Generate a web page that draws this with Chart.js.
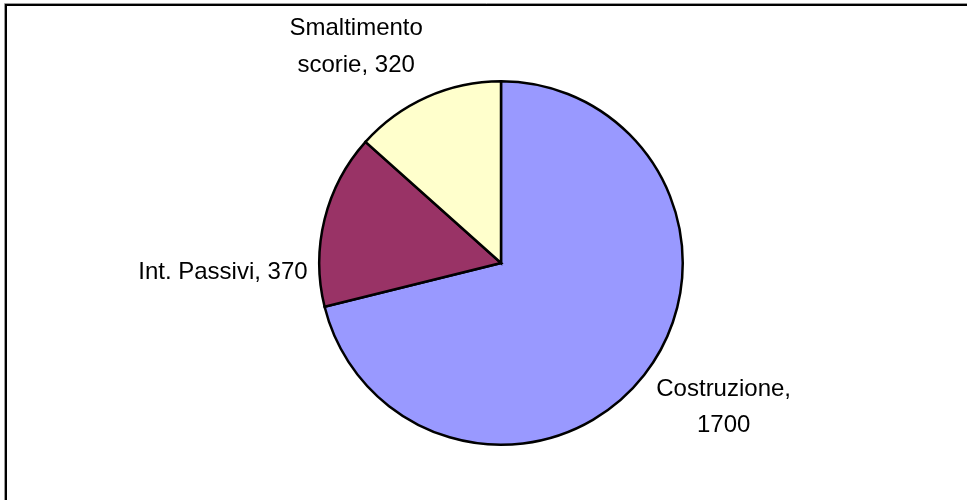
<!DOCTYPE html>
<html>
<head>
<meta charset="utf-8">
<script src="https://cdn.jsdelivr.net/npm/chart.js@4.4.1/dist/chart.umd.min.js"></script>
<style>
  html, body { margin: 0; padding: 0; background: #ffffff; }
  #wrap { width: 967px; height: 500px; position: relative; }
</style>
</head>
<body>
<div id="wrap"><canvas id="c" width="967" height="500"></canvas></div>
<script>
const categories = ["Costruzione", "Int. Passivi", "Smaltimento scorie"];
const values = [1700, 370, 320];
const labelLines = [["Costruzione,", "1700"], ["Int. Passivi, 370"], ["Smaltimento", "scorie, 320"]];
const colors = ["#9999FF", "#993366", "#FFFFCC"];

// label placement relative to the pie centre, in units of the pie radius (layout only)
const labelPlacement = [
  { dx: 1.225, dy: 0.731 },
  { dx: -1.53, dy: 0.088 },
  { dx: -0.797, dy: -1.253 }
];

const framePlugin = {
  id: 'frame',
  beforeDraw(chart) {
    const ctx = chart.ctx;
    ctx.save();
    ctx.fillStyle = '#ffffff';
    ctx.fillRect(0, 0, chart.width, chart.height);
    ctx.strokeStyle = '#9a9a9a';
    ctx.lineWidth = 1;
    ctx.beginPath();
    ctx.moveTo(4.5, 1200); ctx.lineTo(4.5, 3.5); ctx.lineTo(1200, 3.5);
    ctx.stroke();
    ctx.strokeStyle = '#000000';
    ctx.lineWidth = 2;
    ctx.beginPath();
    ctx.moveTo(6, 1200); ctx.lineTo(6, 5); ctx.lineTo(1200, 5);
    ctx.stroke();
    ctx.restore();
  }
};

const labelPlugin = {
  id: 'sliceLabels',
  afterDatasetsDraw(chart) {
    const ctx = chart.ctx;
    const meta = chart.getDatasetMeta(0);
    ctx.save();
    ctx.font = '24px "Liberation Sans", Arial, sans-serif';
    ctx.fillStyle = '#000000';
    ctx.textAlign = 'center';
    ctx.textBaseline = 'alphabetic';
    meta.data.forEach((arc, i) => {
      const p = arc.getProps(['x', 'y', 'outerRadius'], true);
      const pl = labelPlacement[i];
      const x = p.x + pl.dx * p.outerRadius;
      const y = p.y + pl.dy * p.outerRadius;
      labelLines[i].forEach((line, j) => {
        ctx.fillText(line, x, y + j * 36.5);
      });
    });
    ctx.restore();
  }
};

new Chart(document.getElementById('c'), {
  type: 'pie',
  data: {
    labels: categories,
    datasets: [{
      data: values,
      backgroundColor: colors,
      borderColor: '#000000',
      borderWidth: 2.5,
      borderJoinStyle: 'miter',
      hoverOffset: 0
    }]
  },
  options: {
    responsive: false,
    animation: false,
    rotation: 0,
    layout: { padding: { left: 318, right: 283, top: 80, bottom: 54 } },
    plugins: {
      legend: { display: false },
      tooltip: { enabled: false }
    }
  },
  plugins: [framePlugin, labelPlugin]
});
</script>
</body>
</html>
